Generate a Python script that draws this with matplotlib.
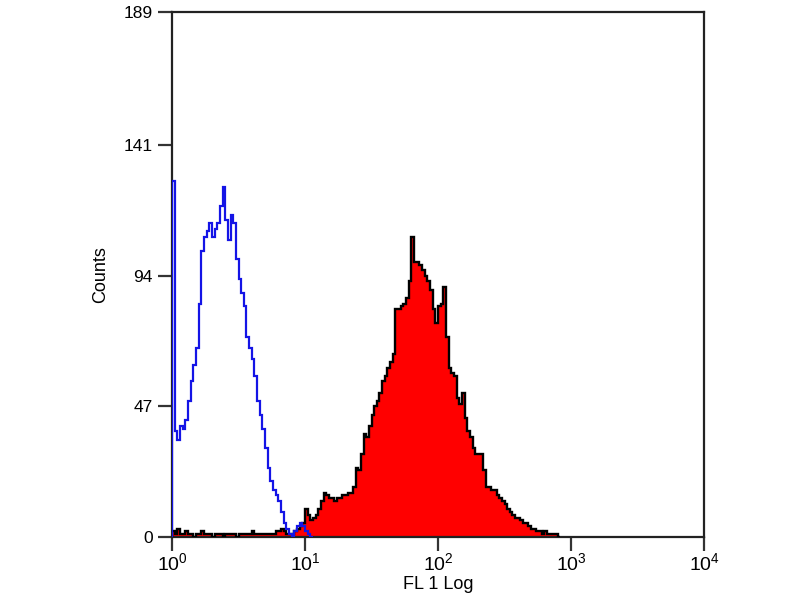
import numpy as np
import matplotlib.pyplot as plt

plt.rcParams['font.family'] = ['Liberation Sans', 'DejaVu Sans']
plt.rcParams['mathtext.fontset'] = 'custom'
plt.rcParams['mathtext.rm'] = 'Liberation Sans'
plt.rcParams['mathtext.it'] = 'Liberation Sans'

# channel width in decades (log10 of FL1)
chan_step = 0.02

# isotype control (blue outline), starting at 10^0
ctrl_start = 0.0
ctrl_counts = [128, 38, 35, 40, 39, 42, 49, 56, 62, 68,
               84, 103, 108, 110, 113, 108, 111, 113, 119, 126,
               114, 107, 116, 113, 100, 93, 88, 83, 72, 68,
               64, 58, 49, 44, 39, 32, 25, 20, 17, 15,
               13, 9, 5, 3, 1, 0, 2, 4, 5, 4,
               2, 1, 0]

# stained sample (red fill, black outline), starting at 10^0
stain_start = 0.0
stain_counts = [2, 1, 3, 1, 1, 2, 1, 1, 0, 1,
                1, 2, 1, 1, 1, 0, 1, 1, 1, 0,
                1, 1, 1, 1, 0, 1, 1, 1, 1, 1,
                2, 1, 1, 1, 1, 1, 1, 1, 1, 2,
                2, 3, 2, 1,
                1, 1, 2, 3, 4, 5, 10, 8, 6, 7,
                8, 10, 13, 16, 15, 14, 14, 13, 14, 14,
                15, 15, 16, 16, 18, 25, 24, 30, 37, 36,
                40, 44, 47, 49, 52, 56, 58, 61, 63, 66,
                82, 82, 83, 84, 86, 92, 108, 99, 99, 98,
                96, 94, 92, 89, 82, 77, 83, 84, 90, 72,
                61, 59, 58, 50, 48, 52, 43, 38, 36, 32,
                30, 30, 30, 24, 18, 18, 17, 17, 15, 14,
                13, 12, 10, 9, 8, 7, 7, 6, 5, 5,
                4, 3, 3, 2, 2, 1, 2, 1, 1, 1,
                1, 0]

y_ticks = [0, 47, 94, 141, 189]
x_ticks = [1, 10, 100, 1000, 10000]
x_ticklabels = [r'$10^{0}$', r'$10^{1}$', r'$10^{2}$', r'$10^{3}$', r'$10^{4}$']

ctrl_edges = 10 ** (ctrl_start + chan_step * np.arange(len(ctrl_counts) + 1))
stain_edges = 10 ** (stain_start + chan_step * np.arange(len(stain_counts) + 1))

fig = plt.figure(figsize=(8, 6), dpi=100)
ax = fig.add_axes([0.215, 0.105, 0.665, 0.875])

ax.stairs(stain_counts, stain_edges, fill=True, color='#ff0000', zorder=2)
ax.stairs(stain_counts, stain_edges, color='black', lw=1.7, zorder=3)
ax.stairs(ctrl_counts, ctrl_edges, color='#1414e6', lw=1.6, zorder=4)

ax.set_xscale('log')
ax.set_xlim(1, 10000)
ax.set_ylim(0, 189)
ax.minorticks_off()
ax.set_xticks(x_ticks)
ax.set_xticklabels(x_ticklabels, fontsize=14)
ax.set_yticks(y_ticks)
ax.set_yticklabels([str(t) for t in y_ticks], fontsize=12.5)
ax.tick_params(direction='out', length=10, width=1.6, color='#333333', pad=4)
ax.tick_params(axis='x', length=10, pad=1)

for s in ax.spines.values():
    s.set_linewidth(1.6)
    s.set_color('#222222')

ax.set_xlabel('FL 1 Log', fontsize=13, labelpad=1)
ax.set_ylabel('Counts', fontsize=13, labelpad=10)

fig.savefig('out.png', dpi=100)
